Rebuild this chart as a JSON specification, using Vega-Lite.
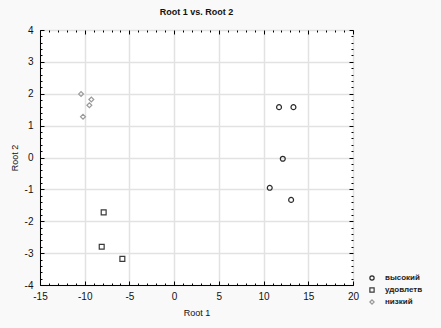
{
  "$schema": "https://vega.github.io/schema/vega-lite/v6.json",
  "autosize": {"type": "none"},
  "width": 313,
  "height": 255,
  "padding": {"left": 40, "top": 30, "right": 88, "bottom": 43},
  "background": "#f9f9f9",
  "title": {"text": "Root 1 vs. Root 2", "font": "Liberation Sans", "fontSize": 9, "fontWeight": "bold", "color": "#111", "offset": 8, "anchor": "middle"},
  "config": {
    "view": {"fill": "white", "stroke": "black", "strokeWidth": 1},
    "axis": {"labelFont": "Liberation Sans", "labelFontSize": 10, "labelColor": "#111", "titleFont": "Liberation Sans", "titleFontSize": 9, "titleFontWeight": "normal", "titleColor": "#111", "domainColor": "black", "tickColor": "black", "gridColor": "#e2e2e2", "gridWidth": 1.5, "labelOverlap": false, "labelBound": false, "labelFlush": false}
  },
  "data": {"values": [
    {"root1": 11.73, "root2": 1.58, "group": "высокий"},
    {"root1": 13.34, "root2": 1.58, "group": "высокий"},
    {"root1": 12.15, "root2": -0.04, "group": "высокий"},
    {"root1": 10.69, "root2": -0.95, "group": "высокий"},
    {"root1": 13.08, "root2": -1.33, "group": "высокий"},
    {"root1": -7.88, "root2": -1.72, "group": "удовлетв"},
    {"root1": -8.10, "root2": -2.80, "group": "удовлетв"},
    {"root1": -5.79, "root2": -3.18, "group": "удовлетв"},
    {"root1": -10.41, "root2": 1.99, "group": "низкий"},
    {"root1": -10.19, "root2": 1.28, "group": "низкий"},
    {"root1": -9.48, "root2": 1.64, "group": "низкий"},
    {"root1": -9.26, "root2": 1.82, "group": "низкий"}
  ]},
  "layer": [
    {
      "mark": {"type": "point", "filled": false, "strokeWidth": 1.2, "size": 24, "opacity": 1},
      "encoding": {
        "x": {"field": "root1", "type": "quantitative", "title": "Root 1",
          "scale": {"domain": [-15, 20], "nice": false, "zero": false},
          "axis": {"orient": "bottom",
            "values": [-15, -14, -13, -12, -11, -10, -9, -8, -7, -6, -5, -4, -3, -2, -1, 0, 1, 2, 3, 4, 5, 6, 7, 8, 9, 10, 11, 12, 13, 14, 15, 16, 17, 18, 19, 20],
            "labelExpr": "datum.value % 5 === 0 ? datum.value + '' : ''",
            "tickSize": {"condition": {"test": "datum.value % 5 === 0", "value": -4}, "value": -2},
            "gridOpacity": {"condition": {"test": "datum.value % 5 === 0", "value": 1}, "value": 0},
            "labelPadding": 10, "titlePadding": 5}},
        "y": {"field": "root2", "type": "quantitative", "title": "Root 2",
          "scale": {"domain": [-4, 4], "nice": false, "zero": false},
          "axis": {"orient": "left",
            "values": [-4, -3.8, -3.6, -3.4, -3.2, -3, -2.8, -2.6, -2.4, -2.2, -2, -1.8, -1.6, -1.4, -1.2, -1, -0.8, -0.6, -0.4, -0.2, 0, 0.2, 0.4, 0.6, 0.8, 1, 1.2, 1.4, 1.6, 1.8, 2, 2.2, 2.4, 2.6, 2.8, 3, 3.2, 3.4, 3.6, 3.8, 4],
            "labelExpr": "datum.value % 1 === 0 ? datum.value + '' : ''",
            "tickSize": {"condition": {"test": "datum.value % 1 === 0", "value": -4}, "value": -2},
            "gridOpacity": {"condition": {"test": "datum.value % 1 === 0", "value": 1}, "value": 0},
            "labelPadding": 11, "titlePadding": 5}},
        "shape": {"field": "group", "type": "nominal",
          "scale": {"domain": ["высокий", "удовлетв", "низкий"], "range": ["circle", "square", "diamond"]},
          "legend": {"title": null, "orient": "none", "legendX": 328, "legendY": 244, "labelFont": "Liberation Sans", "labelFontSize": 8, "labelFontWeight": "bold", "labelColor": "#222", "labelOffset": 9, "rowPadding": 2, "symbolSize": 18, "symbolStrokeWidth": 1.2}},
        "color": {"field": "group", "type": "nominal",
          "scale": {"domain": ["высокий", "удовлетв", "низкий"], "range": ["#2a2a2a", "#3a3a3a", "#9a9a9a"]},
          "legend": {"title": null, "orient": "none", "legendX": 328, "legendY": 244, "labelFont": "Liberation Sans", "labelFontSize": 8, "labelFontWeight": "bold", "labelColor": "#222", "labelOffset": 9, "rowPadding": 2, "symbolSize": 18, "symbolStrokeWidth": 1.2}}
      }
    },
    {
      "mark": {"type": "point", "opacity": 0},
      "encoding": {
        "x": {"field": "root1", "type": "quantitative",
          "axis": {"orient": "top", "title": null, "labels": false, "domain": false, "grid": false,
            "values": [-15, -14, -13, -12, -11, -10, -9, -8, -7, -6, -5, -4, -3, -2, -1, 0, 1, 2, 3, 4, 5, 6, 7, 8, 9, 10, 11, 12, 13, 14, 15, 16, 17, 18, 19, 20],
            "tickSize": {"condition": {"test": "datum.value % 5 === 0", "value": -4}, "value": -2}}},
        "y": {"field": "root2", "type": "quantitative",
          "axis": {"orient": "right", "title": null, "labels": false, "domain": false, "grid": false,
            "values": [-4, -3.8, -3.6, -3.4, -3.2, -3, -2.8, -2.6, -2.4, -2.2, -2, -1.8, -1.6, -1.4, -1.2, -1, -0.8, -0.6, -0.4, -0.2, 0, 0.2, 0.4, 0.6, 0.8, 1, 1.2, 1.4, 1.6, 1.8, 2, 2.2, 2.4, 2.6, 2.8, 3, 3.2, 3.4, 3.6, 3.8, 4],
            "tickSize": {"condition": {"test": "datum.value % 1 === 0", "value": -4}, "value": -2}}}
      }
    }
  ],
  "resolve": {"axis": {"x": "independent", "y": "independent"}}
}
